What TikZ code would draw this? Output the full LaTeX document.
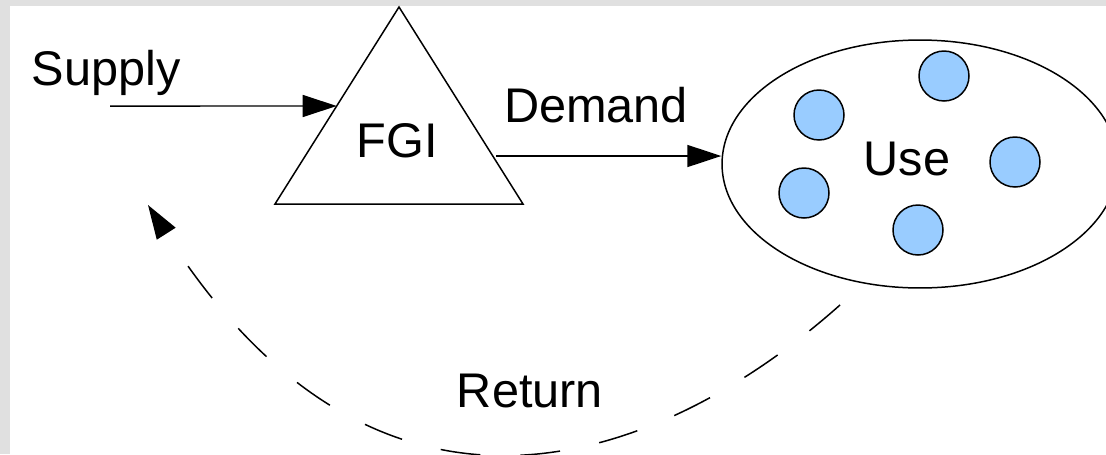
\documentclass[tikz,border=0pt]{standalone}
\usepackage{fontspec}
\setmainfont{Liberation Sans}
\usetikzlibrary{arrows.meta,shapes.geometric,calc}
\definecolor{bordergray}{RGB}{224,224,224}
\definecolor{dotblue}{RGB}{153,204,255}
\tikzset{
  lbl/.style={font=\fontsize{27.7pt}{33pt}\selectfont, inner sep=0pt, anchor=base},
  conn/.style={line width=0.85pt, -{Triangle[length=0.68cm,width=0.44cm]}},
  dot/.style={circle, draw, line width=0.85pt, fill=dotblue, minimum size=1cm, inner sep=0pt},
}
\begin{document}
\begin{tikzpicture}[x=0.02cm,y=-0.02cm]
\useasboundingbox (0,0) rectangle (1106,454);
\clip (0,0) rectangle (1106,454);
\fill[bordergray] (0,0) rectangle (1106,454);
\fill[white] (10,6) rectangle (1106,454);
% triangle
\coordinate (apex) at (399,7);
\coordinate (bl) at (275,204);
\coordinate (br) at (523,204);
\draw[line width=0.85pt, line join=miter] (apex) -- (bl) -- (br) -- cycle;
\node[lbl] (fgi) at (397,157) {FGI};
\coordinate (triin) at ($(apex)!0.5025!(bl)$);
\coordinate (triout) at (496,156);
% use ellipse
\node[ellipse, draw, line width=0.85pt, minimum width=7.92cm, minimum height=4.96cm, inner sep=0pt] (use) at (920,164) {};
\node[lbl] (usetxt) at (907,175) {Use};
\node[dot] (d1) at (944,76) {};
\node[dot] (d2) at (819,115) {};
\node[dot] (d3) at (1015,162) {};
\node[dot] (d4) at (804,193) {};
\node[dot] (d5) at (918,230) {};
% labels
\node[lbl] (supply) at (106,85) {Supply};
\node[lbl] (demand) at (596,122) {Demand};
\node[lbl] (return) at (530,407) {Return};
% connectors
\coordinate (supplystart) at (110,106);
\draw[conn] (supplystart) -- (triin);
\draw[conn] (triout) -- (triout -| use.west);
\coordinate (retstart) at (840,305);
\coordinate (retend) at (148,205);
\draw[conn, dash pattern=on 0.8cm off 0.8cm] (retstart) .. controls (660,465) and (380,570) .. (retend);
\end{tikzpicture}
\end{document}
